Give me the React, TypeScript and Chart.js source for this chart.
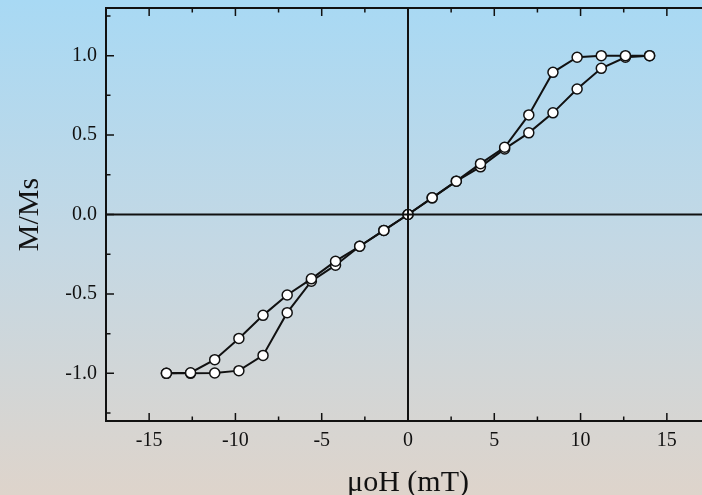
import React, { useEffect, useRef } from 'react';
import { Chart, registerables } from 'chart.js';
Chart.register(...registerables);

// Descending branch (field swept from +14 mT to -14 mT)
const fieldDown = [14, 12.6, 11.2, 9.8, 8.4, 7.0, 5.6, 4.2, 2.8, 1.4, 0, -1.4, -2.8, -4.2, -5.6, -7.0, -8.4, -9.8, -11.2, -12.6, -14];
const mDown = [1.0, 1.0, 1.0, 0.99, 0.895, 0.627, 0.423, 0.32, 0.21, 0.105, 0, -0.1, -0.2, -0.294, -0.405, -0.507, -0.635, -0.78, -0.914, -0.996, -1.0];
// Ascending branch (field swept from -14 mT to +14 mT)
const fieldUp = [-14, -12.6, -11.2, -9.8, -8.4, -7.0, -5.6, -4.2, -2.8, -1.4, 0, 1.4, 2.8, 4.2, 5.6, 7.0, 8.4, 9.8, 11.2, 12.6, 14];
const mUp = [-1.0, -1.0, -0.998, -0.983, -0.887, -0.618, -0.42, -0.319, -0.2, -0.1, 0, 0.105, 0.21, 0.3, 0.413, 0.514, 0.64, 0.79, 0.92, 0.99, 1.0];

const xMajor = [-15, -10, -5, 0, 5, 10, 15];
const xMinor = [-12.5, -7.5, -2.5, 2.5, 7.5, 12.5];
const yMajor = [-1.0, -0.5, 0.0, 0.5, 1.0];
const yMinor = [-1.25, -0.75, -0.25, 0.25, 0.75, 1.25];

const FONT = "'Liberation Serif', 'Times New Roman', serif";
const INK = '#111111';

export default function App() {
  const ref = useRef<HTMLCanvasElement>(null);
  useEffect(() => {
    document.body.style.margin = '0';
    document.body.style.overflow = 'hidden';
    document.documentElement.style.overflow = 'hidden';

    const bgPlugin = {
      id: 'bg',
      beforeDraw(chart: any) {
        const { ctx, width, height } = chart;
        const g = ctx.createLinearGradient(0, 0, 0, height);
        g.addColorStop(0, '#a8d9f4');
        g.addColorStop(0.5, '#c4d8e4');
        g.addColorStop(1, '#ded4cb');
        ctx.save();
        ctx.fillStyle = g;
        ctx.fillRect(0, 0, width, height);
        ctx.restore();
      },
    };

    const framePlugin = {
      id: 'frame',
      afterDatasetsDraw(chart: any) {
        const { ctx, chartArea } = chart;
        const { left, right, top, bottom } = chartArea;
        const xs = chart.scales.x;
        const ys = chart.scales.y;
        ctx.save();
        ctx.strokeStyle = INK;
        ctx.lineWidth = 2;
        const x0 = xs.getPixelForValue(0);
        const y0 = ys.getPixelForValue(0);
        ctx.beginPath();
        ctx.moveTo(left, y0);
        ctx.lineTo(right, y0);
        ctx.moveTo(x0, top);
        ctx.lineTo(x0, bottom);
        ctx.stroke();
        ctx.strokeRect(left, top, right - left, bottom - top);
        ctx.lineWidth = 1.5;
        ctx.beginPath();
        const tick = (vals: number[], len: number) => {
          vals.forEach((v) => {
            const px = xs.getPixelForValue(v);
            ctx.moveTo(px, bottom);
            ctx.lineTo(px, bottom - len);
            ctx.moveTo(px, top);
            ctx.lineTo(px, top + len);
          });
        };
        const tickY = (vals: number[], len: number) => {
          vals.forEach((v) => {
            const py = ys.getPixelForValue(v);
            ctx.moveTo(left, py);
            ctx.lineTo(left + len, py);
            ctx.moveTo(right, py);
            ctx.lineTo(right - len, py);
          });
        };
        tick(xMajor, 8);
        tick(xMinor, 4.5);
        tickY(yMajor, 8);
        tickY(yMinor, 4.5);
        ctx.stroke();
        ctx.restore();
      },
    };

    const ds = (xs: number[], ys: number[]) => ({
      data: xs.map((x, i) => ({ x, y: ys[i] })),
      borderColor: INK,
      borderWidth: 2,
      pointRadius: 5,
      pointBorderWidth: 1.5,
      pointBackgroundColor: '#ffffff',
      pointBorderColor: INK,
      tension: 0,
      fill: false,
    });

    const chart = new Chart(ref.current as HTMLCanvasElement, {
      type: 'line',
      data: { datasets: [ds(fieldDown, mDown), ds(fieldUp, mUp)] as any },
      options: {
        animation: false,
        responsive: false,
        layout: { padding: { left: 0, top: 8, right: 10, bottom: 0 } },
        plugins: { legend: { display: false }, tooltip: { enabled: false } },
        scales: {
          x: {
            type: 'linear',
            min: -17.5,
            max: 17.5,
            afterBuildTicks: (s: any) => {
              s.ticks = xMajor.map((v) => ({ value: v }));
            },
            afterFit: (s: any) => {
              s.height = 74;
              s.paddingLeft = 0;
              s.paddingRight = 0;
            },
            grid: { display: false, drawTicks: false },
            border: { display: false },
            ticks: {
              font: { family: FONT, size: 20 },
              color: INK,
              padding: 8,
              maxRotation: 0,
              callback: (v: any) => String(v),
            },
            title: {
              display: true,
              text: 'μoH (mT)',
              font: { family: FONT, size: 30 },
              color: INK,
              padding: { top: 0, bottom: -6 },
            },
          },
          y: {
            type: 'linear',
            min: -1.3,
            max: 1.3,
            afterBuildTicks: (s: any) => {
              s.ticks = yMajor.map((v) => ({ value: v }));
            },
            afterFit: (s: any) => {
              s.width = 106;
              s.paddingTop = 0;
              s.paddingBottom = 0;
            },
            grid: { display: false, drawTicks: false },
            border: { display: false },
            ticks: {
              font: { family: FONT, size: 20 },
              color: INK,
              padding: 9,
              callback: (v: any) => Number(v).toFixed(1),
            },
            title: {
              display: true,
              text: 'M/Ms',
              font: { family: FONT, size: 30 },
              color: INK,
              padding: { top: 12, bottom: 0 },
            },
          },
        },
      } as any,
      plugins: [bgPlugin, framePlugin],
    });
    return () => chart.destroy();
  }, []);
  return (
    <div style={{ position: 'fixed', left: 0, top: 0, width: 720, height: 495 }}>
      <canvas ref={ref} width={720} height={495} style={{ width: 720, height: 495, display: 'block' }} />
    </div>
  );
}
